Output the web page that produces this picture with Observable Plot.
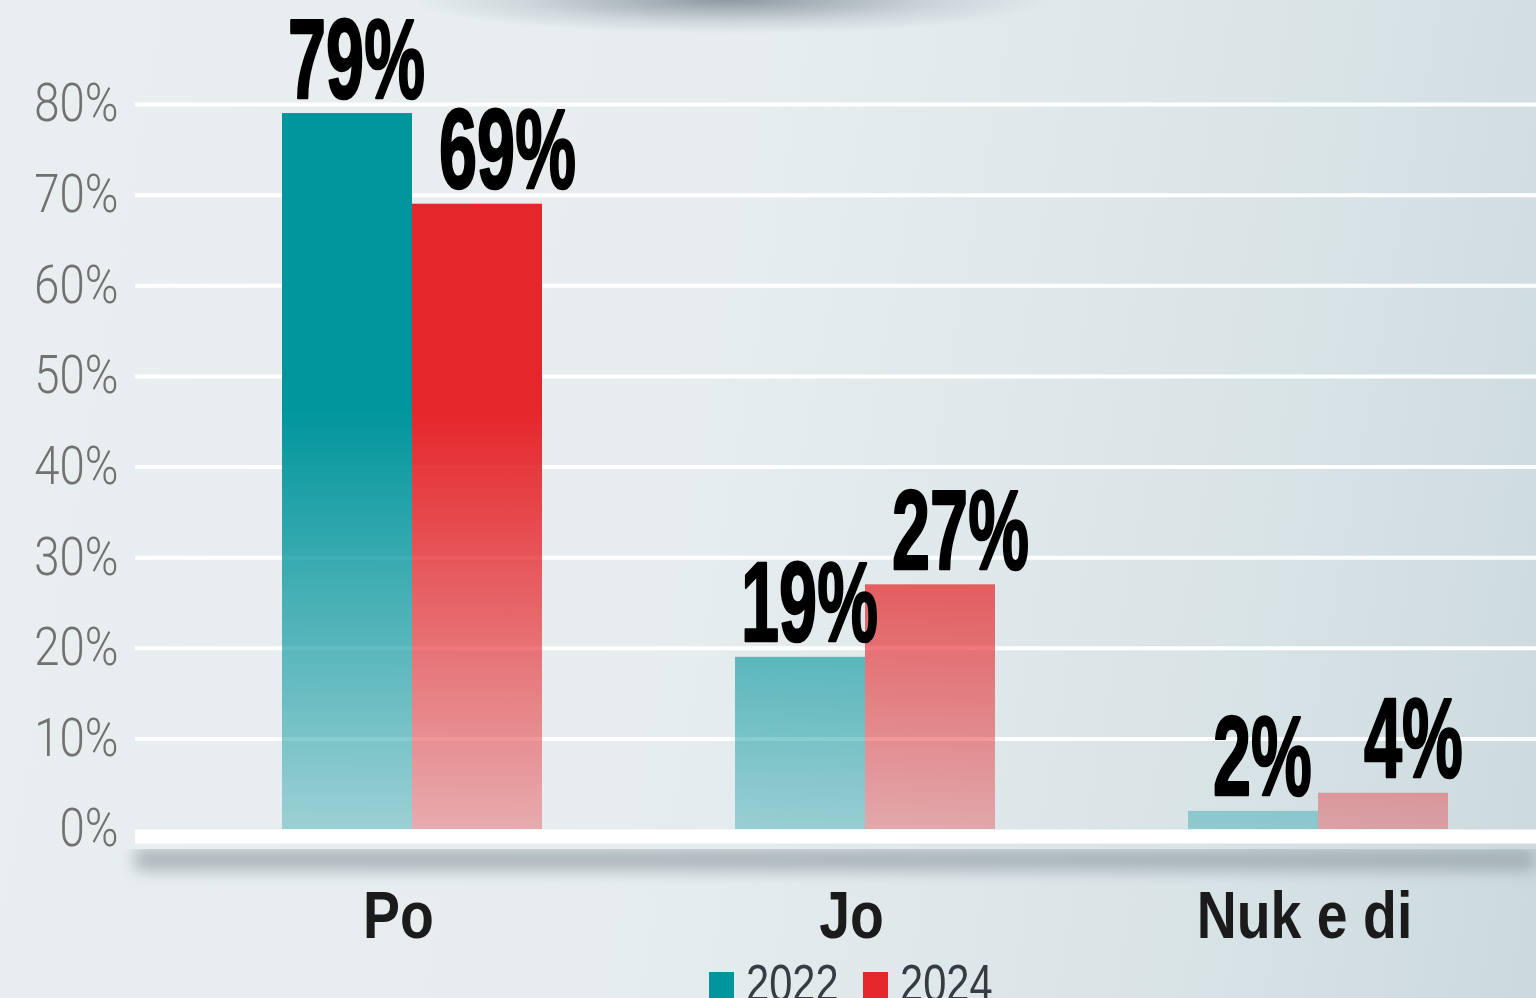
<!DOCTYPE html>
<html>
<head>
<meta charset="utf-8">
<script src="https://cdn.jsdelivr.net/npm/d3@7"></script>
<script src="https://cdn.jsdelivr.net/npm/@observablehq/plot@0.6"></script>
<style>
  html, body { margin: 0; padding: 0; width: 1536px; height: 998px; overflow: hidden; }
  body {
    position: relative;
    background:
      radial-gradient(ellipse 320px 34px at 730px 0px, rgba(118,132,144,0.8), rgba(150,165,175,0.3) 65%, rgba(200,210,218,0) 100%),
      linear-gradient(100deg, #e9eef0 0%, #e7edef 45%, #d8e3e6 80%, #cbd9de 100%);
  }
  #chart svg { display: block; background: transparent !important; }
  .sw { position: absolute; width: 25px; height: 26px; top: 972px; }
  .lbl { position: absolute; top: 957px; font-size: 52px; line-height: 52px; color: #363b44;
         font-family: "Liberation Sans", Arial, sans-serif; transform: scaleX(0.8); transform-origin: 0 0; white-space: nowrap; }
</style>
</head>
<body>
<div id="chart"></div>
<div id="legend"></div>
<script>
// ---- data ----
const categories = ["Po", "Jo", "Nuk e di"];
const series = ["2022", "2024"];
const values2022 = [79, 19, 2];
const values2024 = [69, 27, 4];
const yTicks = [0, 10, 20, 30, 40, 50, 60, 70, 80];
const seriesColors = ["#00959c", "#e5262a"];

const rows = [];
categories.forEach((c, i) => {
  rows.push({category: c, series: "2022", value: values2022[i]});
  rows.push({category: c, series: "2024", value: values2024[i]});
});
const rows22 = rows.filter(d => d.series === "2022");
const rows24 = rows.filter(d => d.series === "2024");

const sansFont = "Liberation Sans, Arial, sans-serif";
const shadowColor = "#8a969b";

const chart = Plot.plot({
  width: 1536,
  height: 958,
  marginLeft: 135,
  marginRight: 0,
  marginTop: 104,
  marginBottom: 129,
  style: {background: "transparent", overflow: "visible"},
  x: {domain: categories, range: [184.5, 1545], paddingInner: 0.427, paddingOuter: 0.2135},
  y: {domain: [0, 80], range: [829, 104]},
  color: {domain: series, range: ["url(#grad2022)", "url(#grad2024)"]},
  marks: [
    Plot.ruleY(yTicks.filter(t => t > 0), {stroke: "white", strokeWidth: 4}),
    Plot.ruleY([0], {stroke: shadowColor, strokeWidth: 22, dy: 30, strokeOpacity: 0.65}),
    Plot.barY(rows22, {x: "category", y: "value", fill: "series", insetRight: 130}),
    Plot.barY(rows24, {x: "category", y: "value", fill: "series", insetLeft: 130}),
    Plot.ruleY([0], {stroke: "white", strokeWidth: 14, dy: 7}),
    Plot.text(rows22, {x: "category", y: "value", text: d => d.value + "%", dx: -56, dy: -16,
      lineAnchor: "bottom", textAnchor: "middle", fontSize: 114, fontWeight: "bold", fontFamily: sansFont,
      fill: "#000", stroke: "#000", strokeWidth: 2.5}),
    Plot.text(rows24, {x: "category", y: "value", text: d => d.value + "%", dx: 95, dy: -16,
      lineAnchor: "bottom", textAnchor: "middle", fontSize: 114, fontWeight: "bold", fontFamily: sansFont,
      fill: "#000", stroke: "#000", strokeWidth: 2.5}),
    Plot.axisY({ticks: yTicks, tickFormat: d => d + "%", tickSize: 0, tickPadding: 17, fontSize: 53,
      fontFamily: "Roboto, Liberation Sans, sans-serif", fontWeight: 300, fill: "#717171", label: null}),
    Plot.axisX({tickSize: 0, tickPadding: 62, fontSize: 66, fontWeight: "bold", fontFamily: sansFont,
      fill: "#1b1b1b", label: null, dx: -14})
  ]
});

const svg = d3.select(chart);
const y = chart.scale("y");
const defs = svg.insert("defs", ":first-child");
const filt = defs.append("filter").attr("id", "blur").attr("filterUnits", "userSpaceOnUse")
  .attr("x", 0).attr("y", y.apply(0) - 10).attr("width", 1536).attr("height", 110);
filt.append("feGaussianBlur").attr("stdDeviation", 8);
series.forEach((s, i) => {
  const g = defs.append("linearGradient").attr("id", "grad" + s)
    .attr("gradientUnits", "userSpaceOnUse")
    .attr("x1", 0).attr("x2", 0)
    .attr("y1", y.apply(80)).attr("y2", y.apply(0));
  g.append("stop").attr("offset", 0).attr("stop-color", seriesColors[i]).attr("stop-opacity", 1);
  g.append("stop").attr("offset", 0.42).attr("stop-color", seriesColors[i]).attr("stop-opacity", 1);
  g.append("stop").attr("offset", 1).attr("stop-color", seriesColors[i]).attr("stop-opacity", 0.33);
});
svg.selectAll(`g[stroke="${shadowColor}"]`).attr("filter", "url(#blur)");

function squeeze(sel, k) {
  sel.each(function() {
    const t = d3.select(this);
    const x = +t.attr("x") || 0, yy = +t.attr("y") || 0;
    const tr = t.attr("transform") || "";
    t.attr("transform", `${tr} translate(${x},${yy}) scale(${k},1) translate(${-x},${-yy})`);
  });
}
squeeze(svg.selectAll('g[font-size="114"] text'), 0.6);
squeeze(svg.selectAll('g[aria-label="y-axis tick label"] text'), 0.86);
squeeze(svg.selectAll('g[aria-label="x-axis tick label"] text'), 0.84);

document.getElementById("chart").appendChild(chart);

// legend (below the svg)
const legend = d3.select("#legend");
const legendLeft = [709, 863];
series.forEach((s, i) => {
  legend.append("div").attr("class", "sw").style("left", legendLeft[i] + "px").style("background", seriesColors[i]);
  legend.append("div").attr("class", "lbl").style("left", (legendLeft[i] + 37) + "px").text(s);
});
</script>
</body>
</html>
